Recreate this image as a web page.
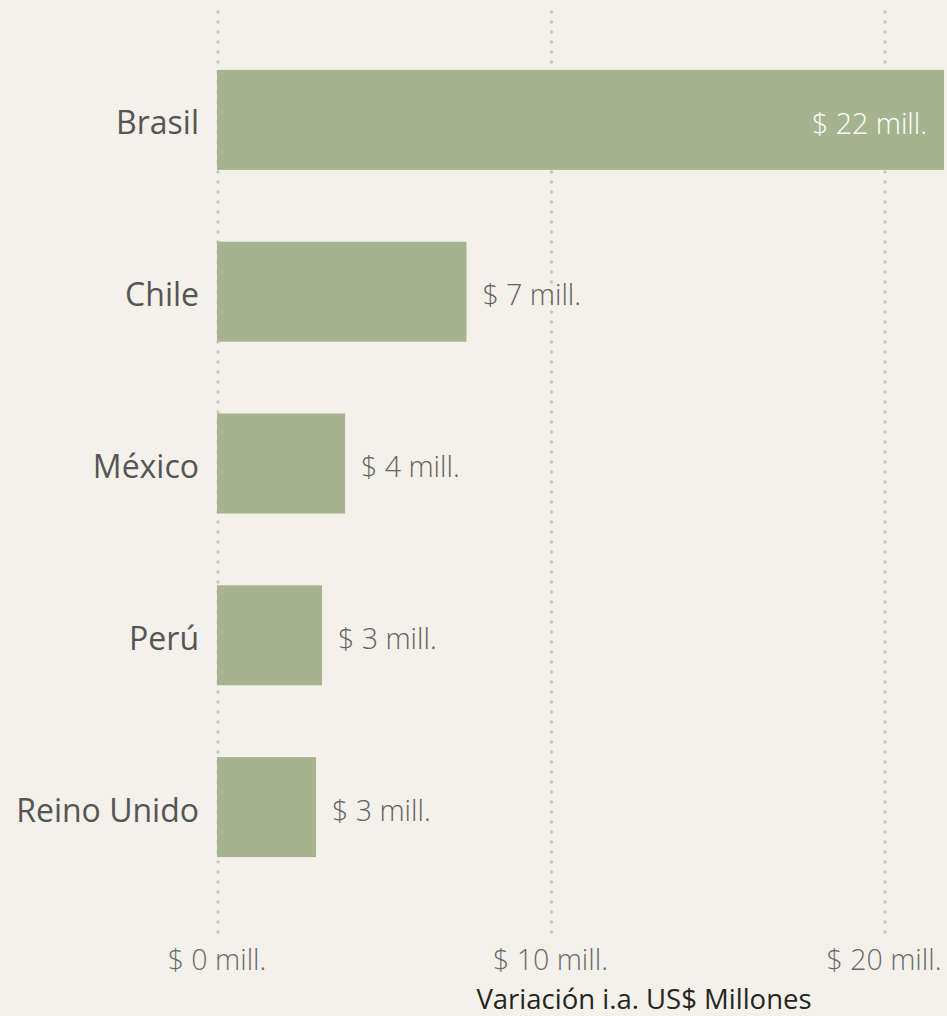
<!DOCTYPE html>
<html>
<head>
<meta charset="utf-8">
<script src="https://cdn.jsdelivr.net/npm/d3@7"></script>
<style>
  html, body { margin: 0; padding: 0; background: #f4f1eb; }
  svg { display: block; }
</style>
</head>
<body>
<div id="chart"></div>
<script>
let countries = ['Brasil', 'Chile', 'México', 'Perú', 'Reino Unido']
let values = [21.8, 7.48, 3.84, 3.15, 2.97]
let tickValues = [0, 10, 20]
let axisTitle = 'Variación i.a. US$ Millones'

let width = 947
let height = 1016
let margin = { left: 217, right: 3 }

let svg = d3
  .select('#chart')
  .append('svg')
  .attr('width', width)
  .attr('height', height)

svg
  .append('rect')
  .attr('width', width)
  .attr('height', height)
  .attr('fill', '#f4f1eb')

let xScale = d3
  .scaleLinear()
  .domain([0, 20])
  .range([margin.left, 884])

let yScale = d3
  .scaleBand()
  .domain(countries)
  .range([34, 893])
  .paddingInner(0.418)
  .paddingOuter(0.209)

let fmt = d => '$ ' + Math.round(d) + ' mill.'
let font = "'Open Sans', 'Noto Sans', sans-serif"

// dotted grid lines
svg
  .selectAll('.grid')
  .data(tickValues)
  .enter()
  .append('line')
  .attr('class', 'grid')
  .attr('x1', d => xScale(d) + 1)
  .attr('x2', d => xScale(d) + 1)
  .attr('y1', 12)
  .attr('y2', 933)
  .attr('stroke', '#c9c7c4')
  .attr('stroke-width', 3.5)
  .attr('stroke-linecap', 'round')
  .attr('stroke-dasharray', '0 10')

// tick labels
svg
  .selectAll('.tick-label')
  .data(tickValues)
  .enter()
  .append('text')
  .attr('class', 'tick-label')
  .text(d => fmt(d))
  .attr('x', d => xScale(d))
  .attr('y', 970)
  .attr('text-anchor', 'middle')
  .attr('font-family', font)
  .attr('font-weight', 300)
  .attr('font-size', 28.5)
  .attr('fill', '#6a6a6a')

// bars
svg
  .selectAll('.bar')
  .data(countries)
  .enter()
  .append('rect')
  .attr('class', 'bar')
  .attr('x', xScale(0))
  .attr('y', d => yScale(d))
  .attr('width', (d, i) => xScale(values[i]) - xScale(0))
  .attr('height', yScale.bandwidth())
  .attr('fill', '#a5b48f')

// category labels
svg
  .selectAll('.cat-label')
  .data(countries)
  .enter()
  .append('text')
  .attr('class', 'cat-label')
  .text(d => d)
  .attr('x', 199)
  .attr('y', d => yScale(d) + yScale.bandwidth() / 2)
  .attr('dy', '0.45em')
  .attr('text-anchor', 'end')
  .attr('font-family', font)
  .attr('font-size', 32)
  .attr('fill', '#555555')

// value labels
svg
  .selectAll('.value-label')
  .data(countries)
  .enter()
  .append('text')
  .attr('class', 'value-label')
  .text((d, i) => fmt(values[i]))
  .attr('x', (d, i) => {
    if (values[i] > 15) {
      return xScale(values[i]) - 17
    } else {
      return xScale(values[i]) + 16
    }
  })
  .attr('y', d => yScale(d) + yScale.bandwidth() / 2)
  .attr('dy', '0.48em')
  .attr('text-anchor', (d, i) => (values[i] > 15 ? 'end' : 'start'))
  .attr('font-family', font)
  .attr('font-weight', 300)
  .attr('font-size', 28.5)
  .attr('fill', (d, i) => (values[i] > 15 ? '#ffffff' : '#626262'))

// axis title
svg
  .append('text')
  .text(axisTitle)
  .attr('x', 644)
  .attr('y', 1009)
  .attr('text-anchor', 'middle')
  .attr('font-family', font)
  .attr('font-size', 27.5)
  .attr('fill', '#252423')
</script>
</body>
</html>
